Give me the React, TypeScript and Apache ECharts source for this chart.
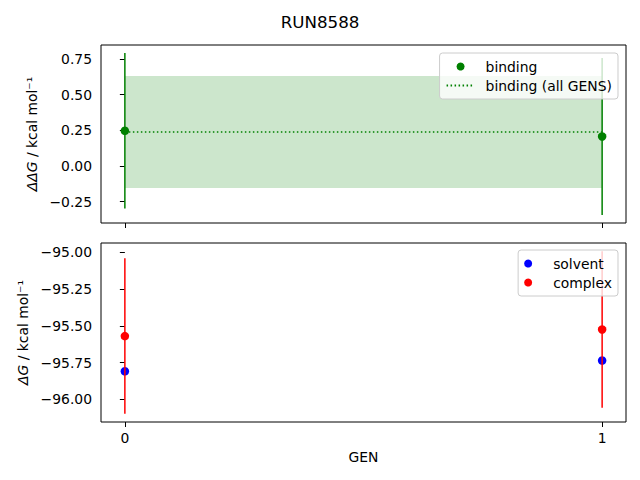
import { useEffect, useRef } from 'react';
import * as echarts from 'echarts';

// GEN index on the x axis
const gens = [0, 1];

// top panel: binding free energy per GEN, with its error
const bindingValues = [0.247, 0.207];
const bindingErrors = [0.545, 0.55];
// estimate over all GENS (dotted line) and its error band
const bindingAll = 0.238;
const bindingAllError = 0.393;

// bottom panel: solvent and complex legs
const solventValues = [-95.809, -95.736];
const complexValues = [-95.57, -95.525];
const complexErrors = [0.528, 0.532];

const topTicks = [-0.25, 0, 0.25, 0.5, 0.75];
const bottomTicks = [-96, -95.75, -95.5, -95.25, -95];

const FONT = 'DejaVu Sans';
const FS = 13.9;
const GREEN = '#008000';

const fmt = (v: number) => v.toFixed(2).replace('-', '\u2212');

// matplotlib style auto limits: data span plus 5% each side
function limits(lo: number[], hi: number[]) {
  const a = Math.min(...lo);
  const b = Math.max(...hi);
  const m = (b - a) * 0.05;
  return [a - m, b + m];
}

function errorBars(color: string) {
  return (params: any, api: any) => {
    const x = api.value(0);
    const p1 = api.coord([x, api.value(1)]);
    const p2 = api.coord([x, api.value(2)]);
    return {
      type: 'line',
      shape: { x1: p1[0], y1: p1[1], x2: p2[0], y2: p2[1] },
      style: { stroke: color, lineWidth: 1.5 },
    };
  };
}

export default function App() {
  const ref = useRef<HTMLDivElement | null>(null);

  useEffect(() => {
    if (!ref.current) return;
    const chart = echarts.init(ref.current, undefined, { renderer: 'svg' });

    const bindLo = gens.map((_, i) => bindingValues[i] - bindingErrors[i]);
    const bindHi = gens.map((_, i) => bindingValues[i] + bindingErrors[i]);
    const compLo = gens.map((_, i) => complexValues[i] - complexErrors[i]);
    const compHi = gens.map((_, i) => complexValues[i] + complexErrors[i]);
    const [topMin, topMax] = limits(
      [...bindLo, bindingAll - bindingAllError],
      [...bindHi, bindingAll + bindingAllError],
    );
    const [botMin, botMax] = limits(
      [...compLo, ...solventValues],
      [...compHi, ...solventValues],
    );

    const tick = { show: true, length: 5, lineStyle: { color: '#000', width: 1 } };
    const label = { color: '#000', fontSize: FS, fontFamily: FONT, margin: 9 };

    const xAxisBase = {
      type: 'value',
      min: -0.05,
      max: 1.05,
      splitLine: { show: false },
      axisLine: { show: false, onZero: false },
    };
    const yName = (delta: string) => ({
      nameLocation: 'middle',
      nameRotate: 90,
      nameTextStyle: {
        color: '#000',
        fontSize: FS,
        fontFamily: FONT,
        rich: {
          i: { fontStyle: 'italic', fontSize: FS, fontFamily: FONT, color: '#000' },
          n: { fontSize: FS, fontFamily: FONT, color: '#000' },
        },
      },
      name: `{i|${delta}G}{n| / kcal mol\u207B\u00B9}`,
    });

    const legendBase = {
      orient: 'vertical',
      right: 22,
      itemWidth: 28,
      itemHeight: 8,
      itemGap: 4,
      padding: [6, 6, 6, 6],
      selectedMode: false,
      backgroundColor: 'rgba(255,255,255,0.8)',
      borderColor: '#cccccc',
      borderWidth: 1,
      borderRadius: 3,
      textStyle: {
        color: '#000',
        fontSize: FS,
        fontFamily: FONT,
        lineHeight: 15,
        padding: [0, 0, 0, 6],
      },
    };

    const dot = (color: string) => ({
      type: 'scatter',
      symbolSize: 8.5,
      color,
      itemStyle: { color, opacity: 1 },
    });

    chart.setOption({
      animation: false,
      title: {
        text: 'RUN8588',
        left: 'center',
        top: 8,
        textStyle: { color: '#000', fontSize: 16.7, fontWeight: 'normal', fontFamily: FONT },
      },
      grid: [
        { left: 101, right: 14, top: 45, height: 178, show: true, borderColor: '#000', borderWidth: 1 },
        { left: 101, right: 14, top: 243, height: 179, show: true, borderColor: '#000', borderWidth: 1 },
      ],
      legend: [
        {
          ...legendBase,
          top: 53,
          data: [
            { name: 'binding', icon: 'circle' },
            { name: 'binding (all GENS)', itemStyle: { opacity: 0 } },
          ],
        },
        {
          ...legendBase,
          top: 250,
          data: [
            { name: 'solvent', icon: 'circle' },
            { name: 'complex', icon: 'circle' },
          ],
        },
      ],
      xAxis: [
        {
          ...xAxisBase,
          gridIndex: 0,
          axisTick: { ...tick, customValues: gens },
          axisLabel: { show: false },
        },
        {
          ...xAxisBase,
          gridIndex: 1,
          axisTick: { ...tick, customValues: gens },
          axisLabel: { ...label, customValues: gens, formatter: (v: number) => String(v) },
          name: 'GEN',
          nameLocation: 'middle',
          nameGap: 28,
          nameTextStyle: { color: '#000', fontSize: FS, fontFamily: FONT },
        },
      ],
      yAxis: [
        {
          type: 'value',
          gridIndex: 0,
          min: topMin,
          max: topMax,
          splitLine: { show: false },
          axisLine: { show: false },
          axisTick: { ...tick, customValues: topTicks },
          axisLabel: { ...label, customValues: topTicks, formatter: fmt },
          nameGap: 62,
          ...yName('\u0394\u0394'),
        },
        {
          type: 'value',
          gridIndex: 1,
          min: botMin,
          max: botMax,
          splitLine: { show: false },
          axisLine: { show: false },
          axisTick: { ...tick, customValues: bottomTicks },
          axisLabel: { ...label, customValues: bottomTicks, formatter: fmt },
          nameGap: 71,
          ...yName('\u0394'),
        },
      ],
      series: [
        {
          name: 'binding (all GENS)',
          type: 'line',
          xAxisIndex: 0,
          yAxisIndex: 0,
          data: [
            [gens[0], bindingAll],
            [gens[gens.length - 1], bindingAll],
          ],
          symbol: 'none',
          color: GREEN,
          lineStyle: { color: GREEN, width: 1.5, type: [1.5, 2.5] },
          markArea: {
            silent: true,
            itemStyle: { color: 'rgba(0,128,0,0.2)' },
            data: [
              [
                { coord: [gens[0], bindingAll - bindingAllError] },
                { coord: [gens[gens.length - 1], bindingAll + bindingAllError] },
              ],
            ],
          },
          z: 2,
        },
        {
          name: 'binding error',
          type: 'custom',
          xAxisIndex: 0,
          yAxisIndex: 0,
          renderItem: errorBars(GREEN),
          encode: { x: 0, y: [1, 2] },
          data: gens.map((g, i) => [g, bindLo[i], bindHi[i]]),
          z: 3,
        },
        {
          ...dot(GREEN),
          name: 'binding',
          xAxisIndex: 0,
          yAxisIndex: 0,
          data: gens.map((g, i) => [g, bindingValues[i]]),
          z: 4,
        },
        {
          ...dot('#0000ff'),
          name: 'solvent',
          xAxisIndex: 1,
          yAxisIndex: 1,
          data: gens.map((g, i) => [g, solventValues[i]]),
          z: 2,
        },
        {
          name: 'complex error',
          type: 'custom',
          xAxisIndex: 1,
          yAxisIndex: 1,
          renderItem: errorBars('#ff0000'),
          encode: { x: 0, y: [1, 2] },
          data: gens.map((g, i) => [g, compLo[i], compHi[i]]),
          z: 3,
        },
        {
          ...dot('#ff0000'),
          name: 'complex',
          xAxisIndex: 1,
          yAxisIndex: 1,
          data: gens.map((g, i) => [g, complexValues[i]]),
          z: 4,
        },
      ],
    });

    return () => {
      chart.dispose();
    };
  }, []);

  return (
    <div
      ref={ref}
      style={{ position: 'absolute', left: 0, top: 0, width: 640, height: 480, background: '#fff' }}
    />
  );
}
